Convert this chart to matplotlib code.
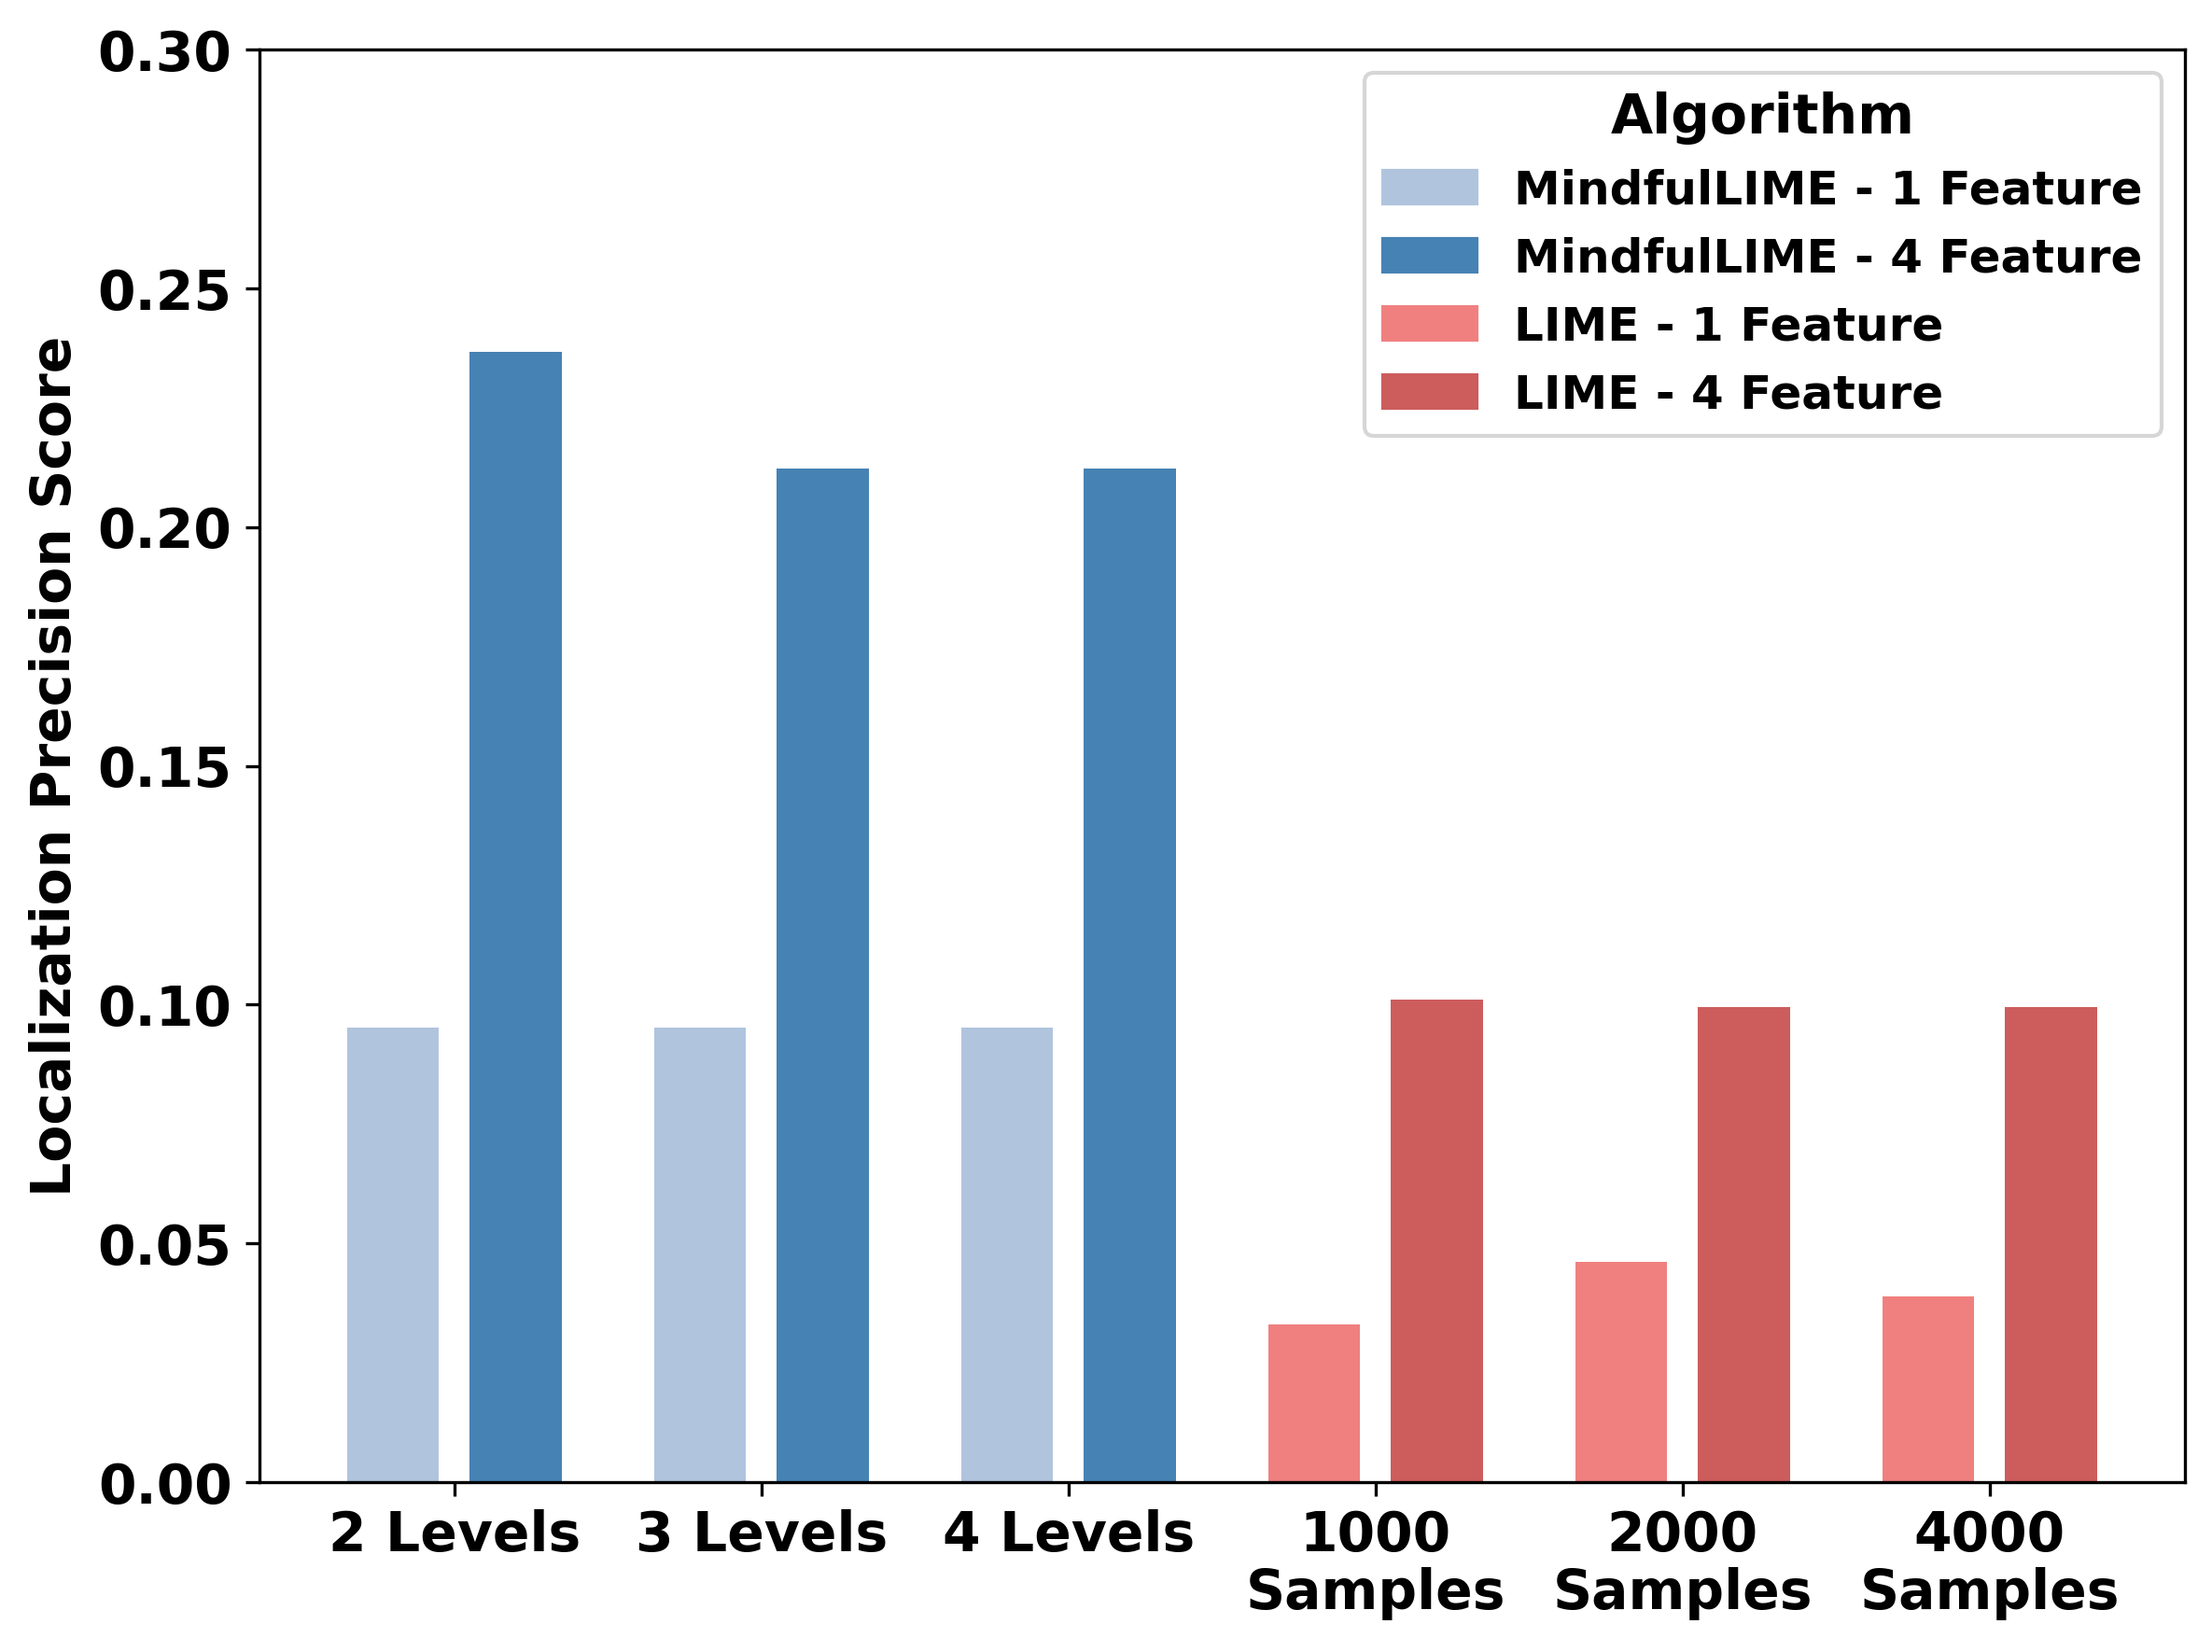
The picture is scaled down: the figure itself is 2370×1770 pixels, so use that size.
import matplotlib
matplotlib.use("Agg")
import matplotlib.pyplot as plt
import numpy as np
from matplotlib.patches import Patch

categories = ["2 Levels", "3 Levels", "4 Levels", "1000\nSamples", "2000\nSamples", "4000\nSamples"]
# light bar (1 feature) and dark bar (4 feature) per category
one_feature = [0.0952, 0.0952, 0.0952, 0.0331, 0.0461, 0.0390]
four_feature = [0.2367, 0.2122, 0.2122, 0.1011, 0.0996, 0.0996]
series_names = ["MindfulLIME - 1 Feature", "MindfulLIME - 4 Feature", "LIME - 1 Feature", "LIME - 4 Feature"]
colors = ["#B0C4DE", "#4682B4", "#F08080", "#CD5C5C"]
is_lime = [False, False, False, True, True, True]
yticks = [0, 0.05, 0.10, 0.15, 0.20, 0.25, 0.30]

plt.rcParams['font.family'] = ['DejaVu Sans']
plt.rcParams['font.weight'] = 'bold'

fig = plt.figure(figsize=(7.9, 5.9), dpi=300)
ax = fig.add_axes([0.1172, 0.1028, 0.8704, 0.8671])

x = np.arange(len(categories))
w = 0.3
off = 0.2
c1 = [colors[2] if l else colors[0] for l in is_lime]
c4 = [colors[3] if l else colors[1] for l in is_lime]
ax.bar(x - off, one_feature, width=w, color=c1)
ax.bar(x + off, four_feature, width=w, color=c4)

ax.set_xticks(x)
ax.set_xticklabels(categories, fontsize=14, fontweight='bold', linespacing=1.1)
ax.set_ylim(0, 0.30)
ax.set_yticks(yticks)
ax.set_yticklabels([f"{v:.2f}" for v in yticks], fontsize=14, fontweight='bold')
ax.set_ylabel("Localization Precision Score", fontsize=14, fontweight='bold')

handles = [Patch(color=c) for c in colors]
leg = ax.legend(handles, series_names, title="Algorithm", loc='upper right',
                prop={'weight': 'bold', 'size': 12},
                title_fontproperties={'weight': 'bold', 'size': 14})

fig.savefig("out.png", dpi=300)
